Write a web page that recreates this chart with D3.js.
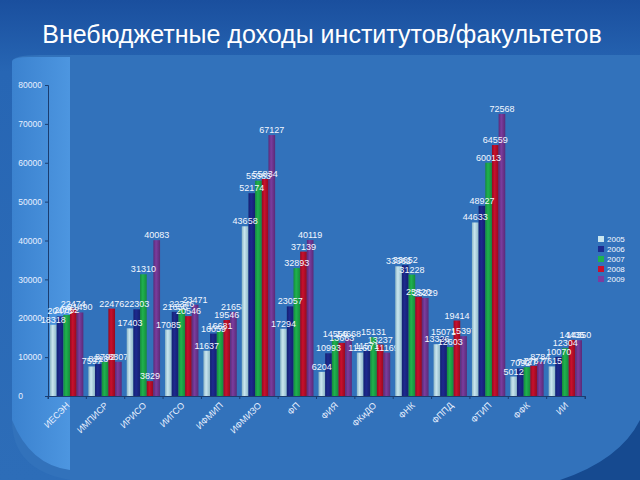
<!DOCTYPE html>
<html><head><meta charset="utf-8">
<script src="https://cdn.jsdelivr.net/npm/d3@7"></script>
<style>html,body{margin:0;padding:0;background:#2a66b0;}svg{display:block;}</style>
</head><body>
<script>
const categories = ["ИЕСЭН","ИМПИСР","ИРИСО","ИИГСО","ИФМИП","ИФМИЗО","ФП","ФИЯ","ФКиДО","ФНК","ФППД","ФТИП","ФФК","ИИ"];
const seriesNames = ["2005","2006","2007","2008","2009"];
const v2005 = [18318, 7597, 17403, 17085, 11637, 43658, 17294, 6204, 11160, 33362, 13326, 44633, 5012, 7615];
const v2006 = [20473, 8218, 22303, 21656, 16059, 52174, 23057, 10993, 11571, 33652, 15071, 48927, 7092, 10070];
const v2007 = [20852, 8792, 31310, 22346, 16681, 55383, 32893, 14556, 15131, 31228, 12603, 60013, 7427, 12304];
const v2008 = [22474, 22476, 3829, 20546, 19546, 55834, 37139, 13663, 13237, 25520, 19414, 64559, 7767, 14435];
const v2009 = [21490, 8807, 40083, 23471, 21658, 67127, 40119, 14668, 11169, 25229, 15397, 72568, 8784, 14350];
const yTicks = [0,10000,20000,30000,40000,50000,60000,70000,80000];
const colors = ["#c9e6ef","#1d2a8f","#1fb24e","#c8102e","#7b3d9e"];
const colorsDark = ["#8db6c6","#142070","#168a3b","#96091f","#5a2a78"];
const title = "Внебюджетные доходы институтов/факультетов";

const values = [v2005,v2006,v2007,v2008,v2009];
const W=640,H=480;
const svg = d3.select("body").append("svg").attr("width",W).attr("height",H);
const defs = svg.append("defs");

// background
const bg = defs.append("linearGradient").attr("id","bg").attr("x1",0).attr("y1",0).attr("x2",0).attr("y2",1);
bg.append("stop").attr("offset",0).attr("stop-color","#1a4f9e");
bg.append("stop").attr("offset",0.15).attr("stop-color","#2766b4");
bg.append("stop").attr("offset",1).attr("stop-color","#2d6db8");
svg.append("rect").attr("width",W).attr("height",H).attr("fill","url(#bg)");
// main panel
svg.append("path").attr("d","M12,62 Q12,55 40,55 L640,55 L640,480 L70,480 Q12,470 12,420 Z").attr("fill","#3272bb");
// left lighter strip
const ls = defs.append("linearGradient").attr("id","ls").attr("x1",0).attr("y1",0).attr("x2",1).attr("y2",0);
ls.append("stop").attr("offset",0).attr("stop-color","#3b82cf");
ls.append("stop").attr("offset",1).attr("stop-color","#4d96e0");
svg.append("path").attr("d","M12,62 Q12,57 30,57 L70,57 L70,470 Q30,465 12,420 Z").attr("fill","url(#ls)");
// bottom-right dark corner
svg.append("path").attr("d","M560,480 Q620,460 640,420 L640,480 Z").attr("fill","#164a90");

// title
svg.append("text").attr("x",322).attr("y",43).attr("text-anchor","middle")
  .attr("font-family","Arial, 'Liberation Sans', sans-serif").attr("font-size",25).attr("fill","#ffffff")
  .text(title);

// bar gradients
colors.forEach((c,i)=>{
  const g = defs.append("linearGradient").attr("id","bar"+i).attr("x1",0).attr("y1",0).attr("x2",1).attr("y2",0);
  g.append("stop").attr("offset",0).attr("stop-color",colorsDark[i]);
  g.append("stop").attr("offset",0.4).attr("stop-color",c);
  g.append("stop").attr("offset",1).attr("stop-color",colorsDark[i]);
});

const x0 = d3.scaleBand().domain(categories).range([48,585]).paddingInner(0).paddingOuter(0);
const x1 = d3.scaleBand().domain(seriesNames).range([2, x0.bandwidth()-3]).padding(0);
const y = d3.scaleLinear().domain([0,80000]).range([396,85]);

const font = "Arial, 'Liberation Sans', sans-serif";

// axes
const yAxis = d3.axisLeft(y).tickValues(yTicks).tickFormat(d3.format("d")).tickSize(3);
const gy = svg.append("g").attr("transform","translate(48,0)").call(yAxis);
gy.select(".domain").attr("stroke","#1b3d70");
gy.selectAll(".tick line").attr("stroke","#1b3d70");
gy.selectAll(".tick text").attr("fill","#e8f0ff").attr("font-family",font).attr("font-size",8.5);
gy.selectAll(".tick").filter(d=>d===0).select("text").attr("x",-25);

const xAxis = d3.axisBottom(x0).tickSize(3).tickFormat("");
const gx = svg.append("g").attr("transform","translate(0,396)").call(xAxis);
gx.select(".domain").attr("stroke","#1b3d70");
gx.selectAll(".tick line").remove();
// boundary ticks
svg.append("g").selectAll("line").data(d3.range(categories.length+1)).join("line")
  .attr("x1",i=>48+i*x0.step()).attr("x2",i=>48+i*x0.step())
  .attr("y1",396).attr("y2",399).attr("stroke","#1b3d70");

// category labels
svg.append("g").selectAll("text").data(categories).join("text")
  .attr("transform",d=>`translate(${x0(d)+x0.bandwidth()/2+3},${406}) rotate(-45)`)
  .attr("text-anchor","end").attr("font-family",font).attr("font-size",9).attr("fill","#e8f0ff")
  .text(d=>d);

// bars
const groups = svg.append("g").selectAll("g").data(categories).join("g")
  .attr("transform",d=>`translate(${x0(d)},0)`);
groups.selectAll("rect").data((d,ci)=>seriesNames.map((s,si)=>({s,si,v:values[si][ci]}))).join("rect")
  .attr("x",d=>x1(d.s)).attr("width",x1.bandwidth())
  .attr("y",d=>y(d.v)).attr("height",d=>y(0)-y(d.v))
  .attr("fill",d=>`url(#bar${d.si})`);
groups.selectAll("text").data((d,ci)=>seriesNames.map((s,si)=>({s,si,v:values[si][ci]}))).join("text")
  .attr("x",d=>x1(d.s)+x1.bandwidth()/2).attr("y",d=>y(d.v)-2)
  .attr("text-anchor","middle").attr("font-family",font).attr("font-size",9).attr("fill","#f4f8ff")
  .text(d=>d.v);

// legend
const lg = svg.append("g").attr("transform","translate(598,236)");
seriesNames.forEach((s,i)=>{
  lg.append("rect").attr("x",0).attr("y",i*10).attr("width",6).attr("height",6).attr("fill",colors[i]);
  lg.append("text").attr("x",9).attr("y",i*10+6).attr("font-family",font).attr("font-size",8).attr("fill","#f4f8ff").text(s);
});
</script>
</body></html>
